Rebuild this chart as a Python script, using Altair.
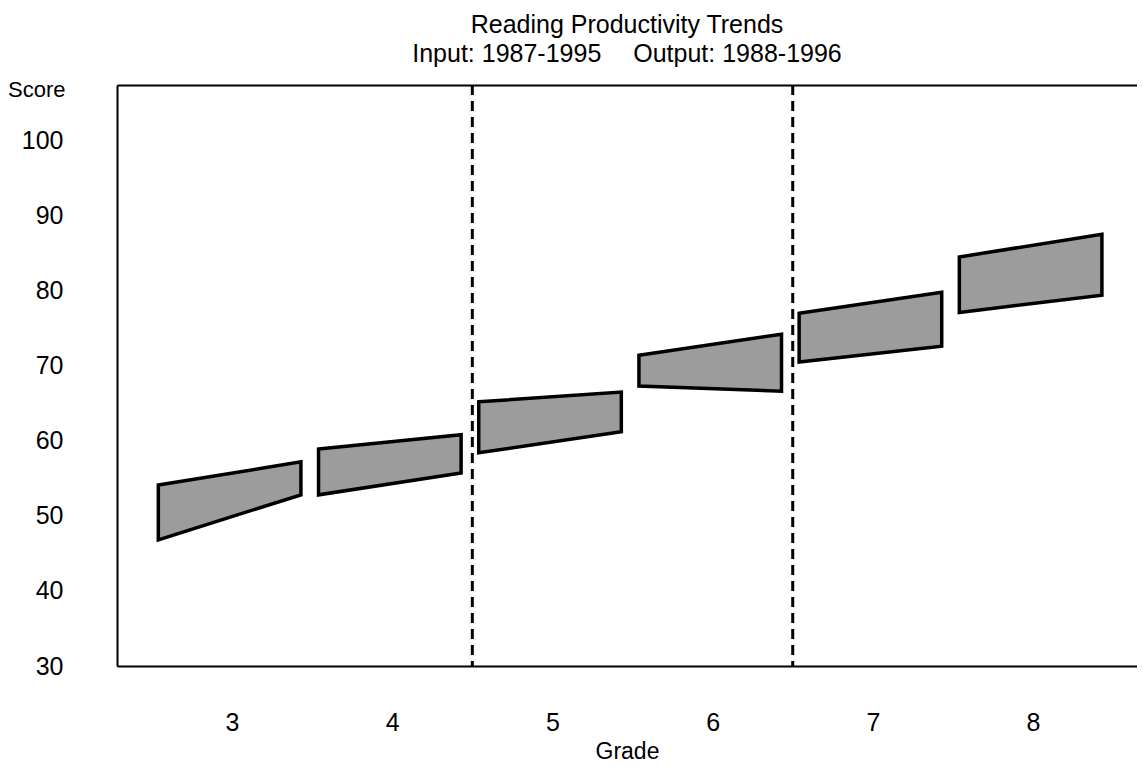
import altair as alt
import pandas as pd

# ---- data ----
grades = [3, 4, 5, 6, 7, 8]
start_high = [54.1, 58.9, 65.2, 71.4, 77.0, 84.5]   # left edge, top
start_low = [46.8, 52.8, 58.4, 67.3, 70.5, 77.1]    # left edge, bottom
end_high = [57.2, 60.8, 66.5, 74.2, 79.8, 87.5]     # right edge, top
end_low = [52.8, 55.7, 61.2, 66.6, 72.6, 79.4]      # right edge, bottom
dividers = [4.5, 6.5]
score_ticks = [30, 40, 50, 60, 70, 80, 90, 100]
title_lines = ["Reading Productivity Trends",
               "Input: 1987-1995\u00a0\u00a0\u00a0\u00a0\u2006Output: 1988-1996"]

# ---- table for the library ----
rows = []
for g, sh, sl, eh, el in zip(grades, start_high, start_low, end_high, end_low):
    rows.append({"grade": g, "pos": g - 0.46, "top": sh, "bottom": sl})
    rows.append({"grade": g, "pos": g + 0.43, "top": eh, "bottom": el})
df = pd.DataFrame(rows)
div_df = pd.DataFrame({"divider": dividers})

FONT = "Liberation Sans"
x_scale = alt.Scale(domain=[2.282, 8.649], nice=False, zero=False)
y_scale = alt.Scale(domain=[30, 107.4], nice=False, zero=False)

areas = alt.Chart(df).mark_area(
    fill="#9c9c9c", stroke="black", strokeWidth=3.5, strokeJoin="miter",
    interpolate="linear", opacity=1, fillOpacity=1
).encode(
    x=alt.X("pos:Q", scale=x_scale, axis=alt.Axis(
        orient="bottom", values=grades, format="d", title="Grade",
        grid=False, ticks=False, domain=True, domainColor="black", domainWidth=2,
        labelPadding=56, labelBaseline="middle", labelFontSize=25, labelFont=FONT,
        labelColor="black", titleFont=FONT, titleFontSize=23,
        titleFontWeight="normal", titleColor="black",
        titleBaseline="alphabetic", titleY=92)),
    y=alt.Y("top:Q", scale=y_scale, stack=None, axis=alt.Axis(
        values=score_ticks, title="Score", grid=False, ticks=False,
        domain=True, domainColor="black", domainWidth=2,
        labelPadding=54, labelFontSize=25, labelFont=FONT, labelColor="black",
        titleAngle=0, titleAlign="right", titleBaseline="middle",
        titleX=-52, titleY=4, titleFont=FONT, titleFontSize=22,
        titleFontWeight="normal", titleColor="black")),
    y2="bottom:Q",
    detail="grade:N",
)

rules = alt.Chart(div_df).mark_rule(
    color="black", strokeWidth=3, strokeDash=[10, 6]
).encode(
    x=alt.X("divider:Q", scale=x_scale, axis=alt.Axis(
        orient="top", labels=False, ticks=False, title=None, grid=False,
        domain=True, domainColor="black", domainWidth=2)),
)

chart = alt.layer(areas, rules).resolve_axis(x="independent").properties(
    width=1020, height=581,
    padding={"left": 109, "top": 77, "right": 0, "bottom": 96},
    autosize=alt.AutoSizeParams(type="none"),
    title=alt.TitleParams(
        text=title_lines, font=FONT, fontSize=25, fontWeight="normal",
        color="black", anchor="middle", frame="group", offset=11, lineHeight=29),
).configure_view(stroke=None).configure(font=FONT)

chart.save("out.html", embed_options={"renderer": "svg", "actions": False})
